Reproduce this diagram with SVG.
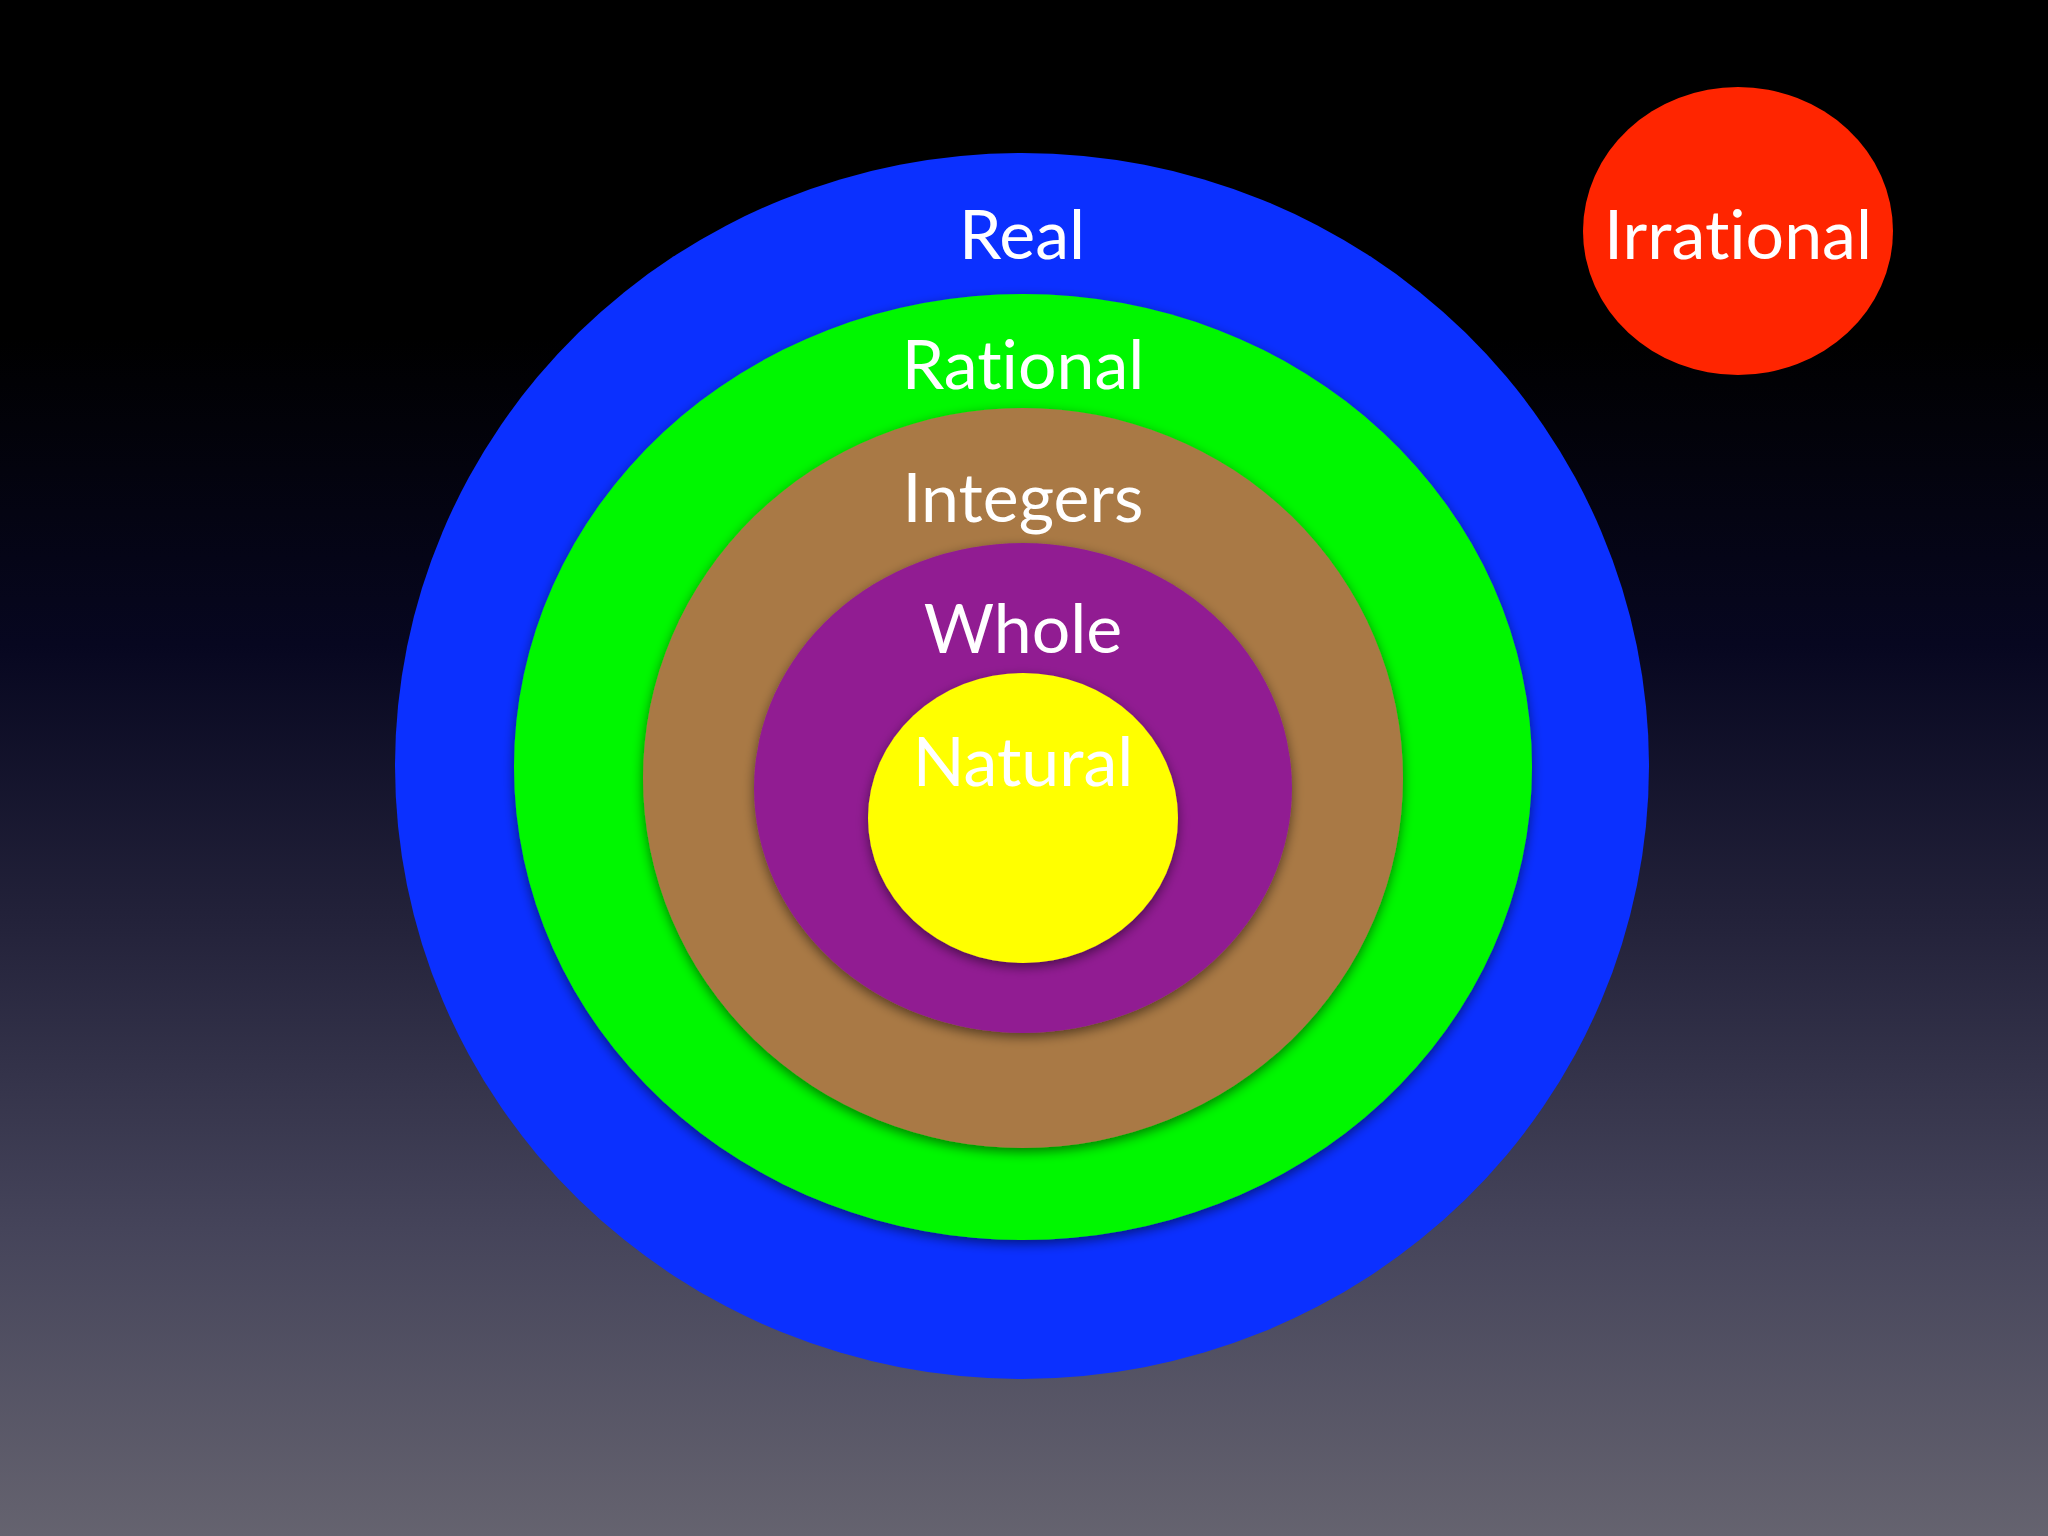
<svg xmlns="http://www.w3.org/2000/svg" width="2048" height="1536" viewBox="0 0 2048 1536">
<defs>
<linearGradient id="bg" x1="0" y1="0" x2="0" y2="1">
<stop offset="0" stop-color="#000000"/>
<stop offset="0.22" stop-color="#000000"/>
<stop offset="0.42" stop-color="#070720"/>
<stop offset="0.6" stop-color="#23223a"/>
<stop offset="0.8" stop-color="#45445a"/>
<stop offset="1" stop-color="#65636f"/>
</linearGradient>
<filter id="sh" x="-10%" y="-10%" width="120%" height="120%">
<feGaussianBlur in="SourceAlpha" stdDeviation="6"/>
<feOffset dy="4"/>
<feComponentTransfer><feFuncA type="linear" slope="0.5"/></feComponentTransfer>
<feMerge><feMergeNode/><feMergeNode in="SourceGraphic"/></feMerge>
</filter>
<style>
text{font-family:Lato,"Open Sans","Liberation Sans",sans-serif;font-size:68px;fill:#ffffff;text-anchor:middle;font-variant-ligatures:none}
</style>
</defs>
<rect width="2048" height="1536" fill="url(#bg)"/>
<g id="real"><ellipse cx="1022" cy="766" rx="627" ry="613" fill="#0b30ff"/><text x="1022" y="259">Real</text></g>
<g id="rational"><ellipse cx="1023" cy="767" rx="509" ry="473" fill="#00f700" filter="url(#sh)"/><text x="1023" y="389">Rational</text></g>
<g id="integers"><ellipse cx="1023" cy="778" rx="380" ry="370" fill="#a97944" filter="url(#sh)"/><text x="1023" y="522">Integers</text></g>
<g id="whole"><ellipse cx="1023" cy="788" rx="269" ry="245" fill="#911f92" filter="url(#sh)"/><text x="1023" y="653">Whole</text></g>
<g id="natural"><ellipse cx="1023" cy="818" rx="155" ry="145" fill="#ffff00" filter="url(#sh)"/><text x="1023" y="786">Natural</text></g>
<g id="irrational"><ellipse cx="1738" cy="231" rx="155" ry="144" fill="#ff2500"/><text x="1738" y="259">Irrational</text></g>
<g id="connectors"/>
</svg>
